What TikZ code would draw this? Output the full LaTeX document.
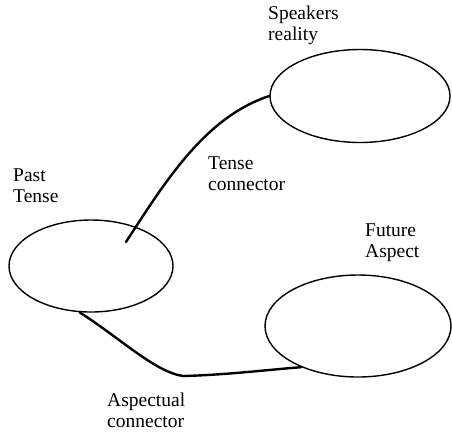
\documentclass[tikz,border=0pt]{standalone}
\usepackage{fontspec}
\setmainfont{Liberation Serif}
\usetikzlibrary{shapes.geometric}
\begin{document}
\begin{tikzpicture}[x=1pt,y=-1pt,
  bubble/.style={draw, ellipse, line width=1.4pt, inner sep=0pt},
  link/.style={line width=2.4pt, line cap=round},
  lbl/.style={anchor=base west, align=left, inner sep=0pt, font=\fontsize{19.5}{21}\selectfont}]
\useasboundingbox (0,0) rectangle (452,432);
\node[bubble, minimum width=180pt, minimum height=93pt] (speakers) at (360,96) {};
\node[bubble, minimum width=164pt, minimum height=92pt] (past) at (91,266) {};
\node[bubble, minimum width=186pt, minimum height=102pt] (future) at (358,326) {};
\coordinate (tenseend) at (126,242);
\coordinate (aspbend) at (183,376);
\draw[link] (tenseend) .. controls (165,182) and (205,117) .. (speakers.west);
\draw[link] (past.256) .. controls (120,338) and (155,372) .. (aspbend)
  .. controls (225,375) and (265,370) .. (future.216);
\node[lbl] (lspeakers) at (268,40) {Speakers\\reality};
\node[lbl] (lpast) at (13,202) {Past\\Tense};
\node[lbl] (ltense) at (208,190) {Tense\\connector};
\node[lbl] (lfuture) at (365,257) {Future\\Aspect};
\node[lbl] (laspect) at (107,427) {Aspectual\\connector};
\end{tikzpicture}
\end{document}
